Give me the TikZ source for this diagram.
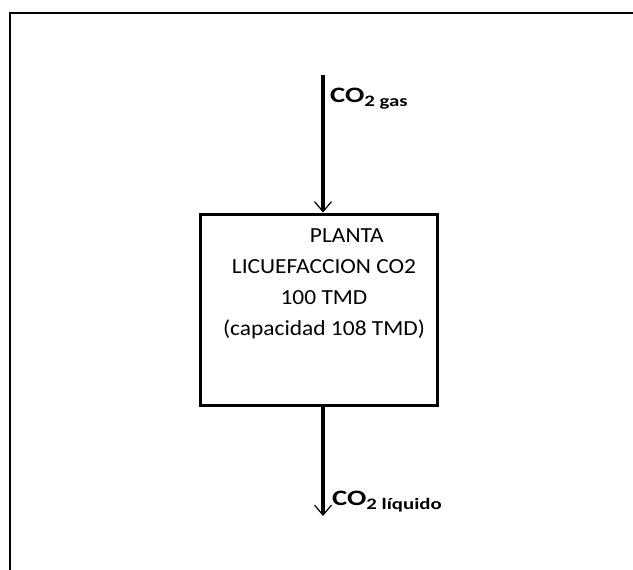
\documentclass[tikz,border=0pt]{standalone}
\usepackage{fontspec}
\setmainfont{Carlito}
\usetikzlibrary{arrows.meta,positioning}
\begin{document}
\begin{tikzpicture}[x=1pt,y=-1pt,
    flujo/.style={line width=3.5pt,-{Straight Barb[length=10pt,width=17pt,line width=1.2pt]}},
    planta/.style={draw,line width=3pt,minimum width=237pt,minimum height=191pt,inner sep=0pt},
    corriente/.style={anchor=base west,inner sep=0pt,font=\fontsize{22}{24}\selectfont\bfseries}]

  % Marco
  \useasboundingbox (0,0) rectangle (633,570);
  \coordinate (marco sup) at (633,13);
  \coordinate (marco esq) at (10,13);
  \coordinate (marco inf) at (10,570);
  \draw[line width=2pt] (marco sup) -- (marco esq) -- (marco inf);

  % Planta de licuefaccion
  \node[planta] (planta) at (318.5,309.5) {};
  \node[anchor=north,font=\fontsize{21.5}{31}\selectfont,inner sep=0pt]
    (texto) at (324,221)
    {\scalebox{1.09}[1]{\begin{tabular}{@{}c@{}}
      \hspace*{42pt}PLANTA\\LICUEFACCION CO2\\100 TMD\\(capacidad 108 TMD)
    \end{tabular}}};

  % Entrada de gas
  \coordinate (entrada) at (323,75);
  \draw[flujo] (entrada) -- (entrada |- planta.north);
  \node[corriente] (gas) at (330,102)
    {\scalebox{1.3}[1]{CO\raisebox{-4pt}{\fontsize{16}{16}\selectfont 2 gas}}};

  % Salida de liquido
  \coordinate (salida) at (323,516);
  \draw[flujo] (salida |- planta.south) -- (salida);
  \node[corriente] (liquido) at (332,505)
    {\scalebox{1.3}[1]{CO\raisebox{-4pt}{\fontsize{16}{16}\selectfont 2 líquido}}};

\end{tikzpicture}
\end{document}
